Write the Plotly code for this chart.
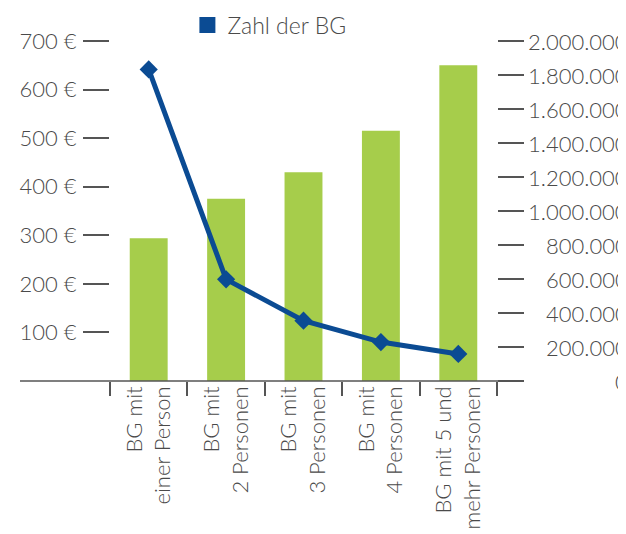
import plotly.graph_objects as go

categories = ["BG mit<br>einer Person", "BG mit<br>2 Personen", "BG mit<br>3 Personen",
              "BG mit<br>4 Personen", "BG mit 5 und<br>mehr Personen"]
leistung_eur = [294, 375, 430, 515, 650]
zahl_bg = [1833000, 598000, 355000, 229000, 159000]
left_ticks = [100, 200, 300, 400, 500, 600, 700]
right_ticks = [0, 200000, 400000, 600000, 800000, 1000000, 1200000, 1400000,
               1600000, 1800000, 2000000]

GREEN = "#a6cd4b"
BLUE = "#0b4b93"
TXT = "#4a4a4a"
AX = "#555555"
FONT = dict(family="Lato", size=23, color=TXT, weight=300)

fig = go.Figure()
fig.add_trace(go.Bar(x=categories, y=leistung_eur, marker=dict(color=GREEN, line_width=0),
                     width=0.49, showlegend=False, yaxis="y"))
fig.add_trace(go.Scatter(x=categories, y=zahl_bg, mode="lines+markers", yaxis="y2",
                         line=dict(color=BLUE, width=5),
                         marker=dict(symbol="diamond", size=14, color=BLUE),
                         showlegend=False))
# legend entry only (square symbol)
fig.add_trace(go.Scatter(x=[None], y=[None], mode="markers", name="Zahl der BG",
                         marker=dict(symbol="square", size=16, color=BLUE)))

# page body has an 8px margin, so the figure is offset by 8px
fig.update_layout(
    width=626, height=534,
    margin=dict(l=102, r=137, t=33, b=161, autoexpand=False),
    plot_bgcolor="white", paper_bgcolor="white",
    font=FONT,
    xaxis=dict(range=[-0.5, 4.5], showline=False, showgrid=False, zeroline=False,
               tickson="boundaries", ticks="outside", ticklen=14, tickcolor=AX,
               tickwidth=1.5, tickangle=-90, tickfont=dict(FONT, size=22), automargin=False),
    yaxis=dict(range=[0, 700], tickvals=left_ticks,
               ticktext=[f"{v} €" for v in left_ticks],
               showgrid=False, zeroline=False, showline=False,
               ticks="outside", ticklen=26, tickcolor=AX, tickwidth=1.5,
               ticklabelstandoff=2, tickfont=dict(FONT, size=22), automargin=False),
    yaxis2=dict(range=[0, 2000000], overlaying="y", side="right", tickvals=right_ticks,
                showticklabels=False, showgrid=False, zeroline=False, showline=False,
                ticks="outside", ticklen=26, tickcolor=AX, tickwidth=1.5, automargin=False),
    legend=dict(x=0.20, y=1.047, xanchor="left", yanchor="middle", bgcolor="rgba(0,0,0,0)",
                font=FONT),
)

# right axis labels, right aligned (they run off the canvas as in the original)
for v in right_ticks:
    fig.add_annotation(x=1.344, xref="paper", y=v, yref="y2", xanchor="right",
                       text=f"{v:,}".replace(",", "."), showarrow=False,
                       font=dict(FONT, size=22))

# baseline running past both sides of the plot
fig.add_shape(type="line", xref="paper", yref="paper", x0=-0.2326, x1=1.067, y0=0, y1=0,
              line=dict(color=AX, width=1.5))

fig.write_html("out.html")
